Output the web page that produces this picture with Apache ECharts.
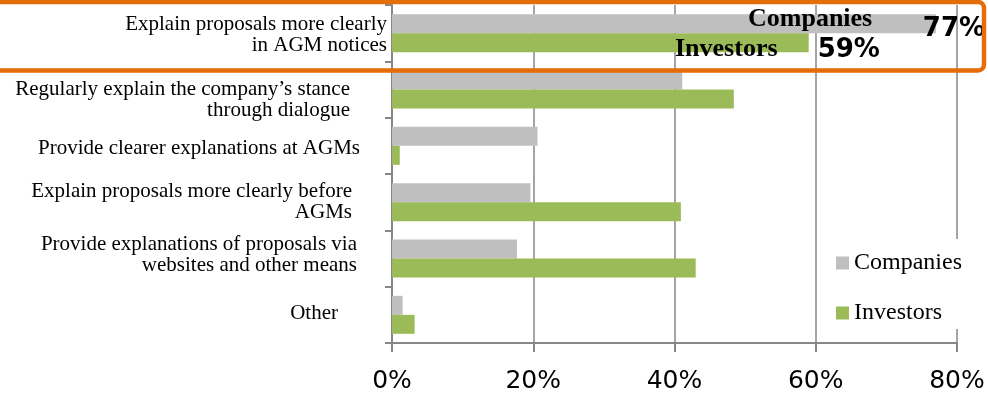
<!DOCTYPE html>
<html>
<head>
<meta charset="utf-8">
<script src="https://cdn.jsdelivr.net/npm/echarts@6/dist/echarts.min.js"></script>
<style>
  html, body { margin: 0; padding: 0; background: #fff; }
  #chart { width: 988px; height: 394px; }
</style>
</head>
<body>
<div id="chart"></div>
<script>
// Measures named by respondents, top to bottom
const categories = [
  'Explain proposals more clearly\nin AGM notices',
  'Regularly explain the company\u2019s stance\nthrough dialogue',
  'Provide clearer explanations at AGMs',
  'Explain proposals more clearly before\nAGMs',
  'Provide explanations of proposals via\nwebsites and other means',
  'Other'
];
const companies = [77, 41.1, 20.6, 19.6, 17.7, 1.5];
const investors = [59, 48.4, 1.1, 40.9, 43.0, 3.2];
const seriesNames = ['Companies', 'Investors'];
const tickValues = [0, 20, 40, 60, 80];

// per-label nudges of the category text: [right inset, vertical shift]
const labelNudge = [[0, 2], [37, 10], [27, 3], [35, 0], [30, -4], [49, -1]];

const GREY = '#BFBFBF';
const GREEN = '#9BBB59';
const AXIS = '#878787';
const ORANGE = '#E46C0A';
const LABEL_FONT = { fontFamily: 'Liberation Serif', fontSize: 21, lineHeight: 21, color: '#000' };

// rich styles: text style per category (right inset) plus spacer lines for vertical shifts
const rich = {};
categories.forEach((c, i) => {
  const [r, v] = labelNudge[i];
  rich['t' + i] = Object.assign({ padding: [0, r, 0, 0], align: 'right' }, LABEL_FONT);
  if (v !== 0) {
    rich['s' + i] = { fontSize: 1, lineHeight: 2 * Math.abs(v), align: 'right' };
  }
});

function formatCategory(value, idx) {
  const v = labelNudge[idx][1];
  const lines = value.split('\n').map(line => '{t' + idx + '|' + line + '}');
  if (v > 0) lines.unshift('{s' + idx + '| }');
  if (v < 0) lines.push('{s' + idx + '| }');
  return lines.join('\n');
}

const chart = echarts.init(document.getElementById('chart'), null, { renderer: 'canvas' });

chart.setOption({
  animation: false,
  backgroundColor: '#fff',
  grid: { left: 392, right: 31, top: 5, bottom: 51, containLabel: false },
  xAxis: {
    type: 'value',
    min: tickValues[0],
    max: tickValues[tickValues.length - 1],
    interval: tickValues[1] - tickValues[0],
    axisLine: { show: true, lineStyle: { color: AXIS, width: 2 } },
    axisTick: { show: true, length: 9, lineStyle: { color: AXIS, width: 2 } },
    splitLine: { show: true, lineStyle: { color: AXIS, width: 1.5 } },
    axisLabel: {
      formatter: '{value}%',
      fontFamily: 'DejaVu Sans',
      fontSize: 25,
      lineHeight: 25,
      color: '#000',
      margin: 26
    }
  },
  yAxis: {
    type: 'category',
    inverse: true,
    data: categories,
    axisLine: { show: true, lineStyle: { color: AXIS, width: 2 } },
    axisTick: { show: true, length: 7, lineStyle: { color: AXIS, width: 2 } },
    splitLine: { show: false },
    axisLabel: Object.assign({
      margin: 5,
      align: 'right',
      formatter: formatCategory,
      rich: rich
    }, LABEL_FONT)
  },
  legend: {
    orient: 'vertical',
    left: 826,
    top: 239,
    padding: [12, 12, 4, 10],
    backgroundColor: '#fff',
    itemGap: 26,
    itemWidth: 13,
    itemHeight: 13,
    icon: 'rect',
    data: seriesNames,
    textStyle: { fontFamily: 'Liberation Serif', fontSize: 24, color: '#000' }
  },
  series: [
    {
      name: seriesNames[0],
      type: 'bar',
      barWidth: 19,
      barGap: '0%',
      itemStyle: { color: GREY },
      data: companies.map((v, i) => i === 0 ? {
        value: v,
        label: {
          show: true, position: 'right', offset: [-18, 6],
          formatter: '{c}%',
          fontFamily: 'DejaVu Sans', fontWeight: 'bold', fontSize: 26, color: '#000'
        }
      } : v),
      z: 2
    },
    {
      name: seriesNames[1],
      type: 'bar',
      barWidth: 19,
      barGap: '0%',
      itemStyle: { color: GREEN },
      data: investors.map((v, i) => i === 0 ? {
        value: v,
        label: {
          show: true, position: 'right', offset: [4, 8],
          formatter: '{c}%',
          fontFamily: 'DejaVu Sans', fontWeight: 'bold', fontSize: 26, color: '#000'
        }
      } : v),
      z: 2
    }
  ],
  graphic: [
    {
      type: 'text', z: 50,
      left: 748, top: 6,
      style: { text: seriesNames[0], font: 'bold 26px "Liberation Serif"', fill: '#000' }
    },
    {
      type: 'text', z: 50,
      left: 675, top: 36,
      style: { text: seriesNames[1], font: 'bold 26px "Liberation Serif"', fill: '#000' }
    },
    {
      type: 'rect', z: 60,
      shape: { x: -10, y: 2, width: 994, height: 68.5, r: 6 },
      style: { fill: 'none', stroke: ORANGE, lineWidth: 4.5 }
    }
  ]
});
</script>
</body>
</html>
